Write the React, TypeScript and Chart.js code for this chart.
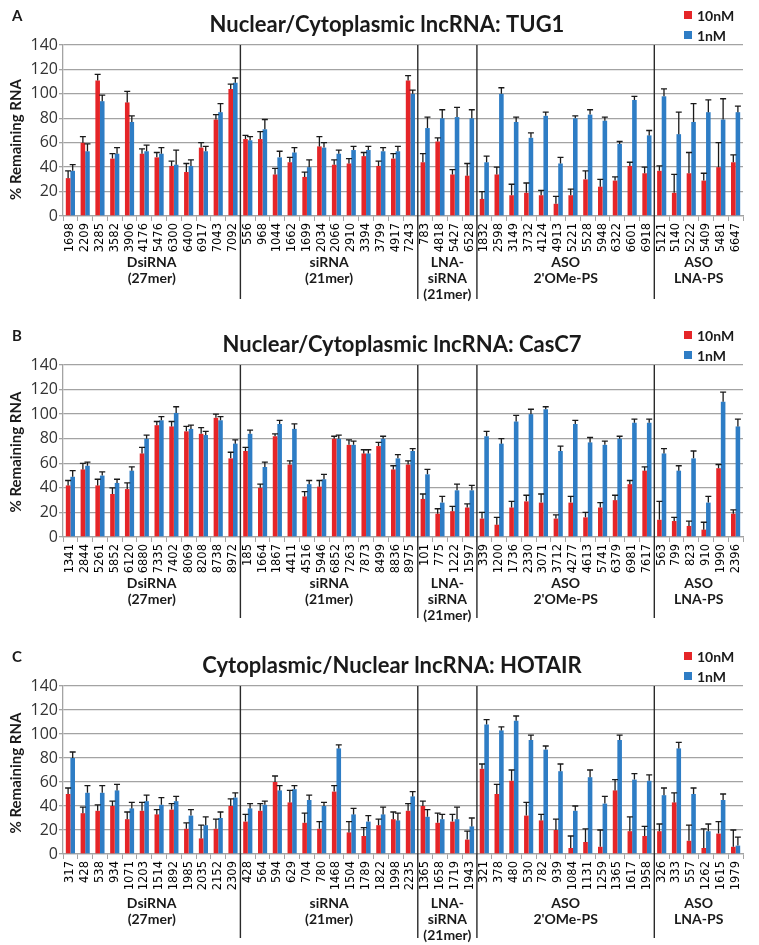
import React, { useEffect, useRef } from "react";
import { Chart, registerables } from "chart.js";
Chart.register(...registerables);

// ---------- shared ----------
const seriesNames = ["10nM", "1nM"];
const groupNames = [["DsiRNA", "(27mer)"], ["siRNA", "(21mer)"], ["LNA-", "siRNA", "(21mer)"], ["ASO", "2'OMe-PS"], ["ASO", "LNA-PS"]];
const groupSizes = [12, 12, 4, 12, 6];
const yAxisTitle = "% Remaining RNA";
const yMin = 0;
const yMax = 140;
const yStep = 20;

// ---------- panel A: TUG1 ----------
const titleA = "Nuclear/Cytoplasmic lncRNA: TUG1";
const catsA = ["1698","2209","3285","3582","3906","4176","5476","6300","6400","6917","7043","7092",
  "556","968","1044","1662","1699","2034","2066","2910","3394","3799","4917","7243",
  "783","4818","5427","6528",
  "1832","2598","3149","3732","4124","4913","5221","5528","5948","6322","6601","6918",
  "5121","5140","5222","5409","5481","6647"];
const redA = [31,60,111,47,93,51,48,41,36,56,79,104, 63,63,34,44,32,57,42,43,49,41,47,111, 44,61,34,33, 14,34,17,19,17,10,17,30,24,29,41,35, 37,19,35,29,40,44];
const redErrA = [6,5,5,4,9,4,4,4,7,4,4,4, 3,6,5,4,4,8,4,4,3,4,4,4, 7,3,4,10, 6,6,9,8,4,6,5,7,6,3,3,5, 4,15,17,6,20,6];
const blueA = [37,53,94,51,77,53,51,42,41,53,85,109, 62,71,48,52,40,56,51,54,54,53,53,100, 72,80,81,80, 44,100,77,64,82,43,80,83,78,59,95,66, 98,67,77,85,79,85];
const blueErrA = [5,6,5,5,5,5,5,12,5,4,7,4, 3,8,5,4,6,4,3,3,3,3,4,3, 9,7,8,7, 5,5,4,4,3,5,2,4,3,2,3,4, 6,18,15,10,17,5];

// ---------- panel B: CasC7 ----------
const titleB = "Nuclear/Cytoplasmic lncRNA: CasC7";
const catsB = ["1341","2844","5261","5852","6120","6880","7335","7402","8069","8208","8738","8972",
  "185","1664","1867","4411","4516","5946","6852","7263","7873","8499","8836","8975",
  "101","775","1222","1597",
  "339","1200","1736","2330","3071","3712","4277","4613","5741","6379","6981","7617",
  "563","799","823","910","1990","2396"];
const redB = [42,55,42,35,39,68,91,90,86,84,97,64, 70,40,82,59,33,41,80,75,68,74,55,59, 31,19,21,24, 15,10,24,29,28,15,28,16,24,30,43,54, 14,13,9,6,56,19];
const redErrB = [4,5,5,5,5,5,3,4,4,5,3,5, 3,3,2,3,4,5,2,4,3,3,3,3, 4,4,4,3, 5,6,5,5,7,3,5,4,4,4,3,3, 15,3,4,6,3,3];
const blueB = [49,58,50,44,54,80,95,101,88,83,95,76, 84,57,92,88,43,47,80,75,68,80,64,70, 51,28,38,38, 82,76,94,100,104,70,92,77,75,80,93,93, 68,54,64,28,110,90];
const blueErrB = [5,3,3,3,3,3,3,5,3,3,3,3, 3,4,3,4,3,4,3,3,3,2,3,2, 4,5,5,4, 4,4,5,4,2,4,3,4,3,2,3,3, 4,4,6,5,8,6];

// ---------- panel C: HOTAIR ----------
const titleC = "Cytoplasmic/Nuclear lncRNA: HOTAIR";
const catsC = ["317","428","538","934","1071","1203","1514","1892","1985","2035","2152","2309",
  "428","564","594","629","704","780","1468","1504","1789","1822","1998","2235",
  "1365","1658","1719","1943",
  "321","378","480","530","782","939","1084","1131","1259","1365","1617","1958",
  "326","333","557","1262","1615","1979"];
const redC = [50,34,36,40,29,36,33,37,21,13,21,40, 27,36,60,43,26,21,52,18,15,24,29,36, 40,26,27,12, 71,50,61,32,28,20,5,10,6,53,19,15, 19,43,11,5,17,6];
const redErrC = [5,5,5,4,6,7,4,5,5,11,8,6, 6,6,5,10,8,6,5,9,7,5,6,6, 4,8,6,7, 4,8,9,11,5,9,10,11,14,9,12,8, 6,8,13,16,10,14];
const blueC = [80,51,51,53,38,44,41,44,32,24,30,47, 38,41,53,54,45,40,88,33,27,33,28,48, 31,29,29,23, 108,103,111,95,87,69,36,64,42,95,62,61, 49,88,50,19,45,7];
const blueErrC = [5,6,6,5,5,5,6,4,5,7,5,4, 4,3,4,3,4,3,3,5,5,6,6,4, 6,4,10,7, 4,3,4,4,3,6,4,6,6,4,5,5, 6,5,5,6,5,7];

const RED = "#E52528";
const BLUE = "#2E7DC5";
const GRID = "#A3A3A3";
const SEP = "#2a2a2a";

type Panel = {
  letter: string; title: string; cats: string[];
  red: number[]; redErr: number[]; blue: number[]; blueErr: number[];
  height: number; xAxisH: number; titleX: number; yTitleShift: number; groupY: number; sepExt: number;
};

const panels: Panel[] = [
  { letter: "A", title: titleA, cats: catsA, red: redA, redErr: redErrA, blue: blueA, blueErr: blueErrA,
    height: 320, xAxisH: 104, titleX: 387, yTitleShift: 9, groupY: 46, sepExt: 83 },
  { letter: "B", title: titleB, cats: catsB, red: redB, redErr: redErrB, blue: blueB, blueErr: blueErrB,
    height: 321, xAxisH: 104, titleX: 402, yTitleShift: 1, groupY: 46, sepExt: 81 },
  { letter: "C", title: titleC, cats: catsC, red: redC, redErr: redErrC, blue: blueC, blueErr: blueErrC,
    height: 304, xAxisH: 91, titleX: 392, yTitleShift: 3, groupY: 49, sepExt: 84 },
];

function makeOverlay(p: Panel) {
  return {
    id: "overlay" + p.letter,
    afterDatasetsDraw(chart: any) {
      const ctx = chart.ctx;
      const ys = chart.scales.y;
      ctx.save();
      ctx.strokeStyle = "#1a1a1a";
      ctx.lineWidth = 1.3;
      chart.data.datasets.forEach((ds: any, di: number) => {
        const meta = chart.getDatasetMeta(di);
        meta.data.forEach((el: any, i: number) => {
          const v = ds.data[i];
          const top = ys.getPixelForValue(v + ds.errors[i]);
          const x = el.x;
          ctx.beginPath();
          ctx.moveTo(x, el.y);
          ctx.lineTo(x, top);
          ctx.moveTo(x - 3, top);
          ctx.lineTo(x + 3, top);
          ctx.stroke();
        });
      });
      ctx.restore();
    },
    afterDraw(chart: any) {
      const ctx = chart.ctx;
      const xs = chart.scales.x;
      const area = chart.chartArea;
      ctx.save();
      // group separators and labels
      const bounds: number[] = [area.left];
      let idx = 0;
      groupSizes.forEach((n, gi) => {
        idx += n;
        if (gi < groupSizes.length - 1) {
          bounds.push((xs.getPixelForValue(idx - 1) + xs.getPixelForValue(idx)) / 2);
        }
      });
      bounds.push(area.right);
      ctx.strokeStyle = SEP;
      ctx.lineWidth = 1.4;
      for (let i = 1; i < bounds.length - 1; i++) {
        ctx.beginPath();
        ctx.moveTo(bounds[i], area.top);
        ctx.lineTo(bounds[i], area.bottom + p.sepExt);
        ctx.stroke();
      }
      ctx.fillStyle = "#1a1a1a";
      ctx.font = "bold 14px Lato";
      ctx.textAlign = "center";
      ctx.textBaseline = "middle";
      groupNames.forEach((lines, gi) => {
        const cx = (bounds[gi] + bounds[gi + 1]) / 2;
        lines.forEach((ln, k) => {
          ctx.fillText(ln, cx, area.bottom + p.groupY + k * 16);
        });
      });
      // title
      ctx.font = "bold 22px Lato";
      ctx.textBaseline = "alphabetic";
      ctx.fillStyle = "#1a1a1a";
      ctx.fillText(p.title, p.titleX, area.top - 13);
      // panel letter
      ctx.textAlign = "left";
      ctx.font = "bold 15px Lato";
      ctx.fillText(p.letter, 12, area.top - 24);
      // legend
      const colors = [RED, BLUE];
      ctx.font = "bold 14px Lato";
      ctx.textBaseline = "middle";
      seriesNames.forEach((nm, i) => {
        const cy = area.top - 30 + i * 20;
        ctx.fillStyle = colors[i];
        ctx.fillRect(684, cy - 4, 8, 8);
        ctx.fillStyle = "#1a1a1a";
        ctx.fillText(nm, 697, cy + 1);
      });
      // y axis title
      ctx.save();
      ctx.translate(16, (area.top + area.bottom) / 2 + p.yTitleShift);
      ctx.rotate(-Math.PI / 2);
      ctx.textAlign = "center";
      ctx.textBaseline = "middle";
      ctx.font = "bold 15px Lato";
      ctx.fillStyle = "#1a1a1a";
      ctx.fillText(yAxisTitle, 0, 0);
      ctx.restore();
      ctx.restore();
    },
  };
}

function PanelChart({ p }: { p: Panel }) {
  const ref = useRef<HTMLCanvasElement>(null);
  useEffect(() => {
    const chart = new Chart(ref.current!, {
      type: "bar",
      data: {
        labels: p.cats,
        datasets: [
          { label: seriesNames[0], data: p.red, errors: p.redErr, backgroundColor: RED, borderWidth: 0 } as any,
          { label: seriesNames[1], data: p.blue, errors: p.blueErr, backgroundColor: BLUE, borderWidth: 0 } as any,
        ],
      },
      options: {
        responsive: false,
        animation: false,
        maintainAspectRatio: false,
        datasets: { bar: { categoryPercentage: 0.62, barPercentage: 1 } },
        layout: { padding: { top: 45, right: 16, left: 0, bottom: 0 } },
        plugins: { legend: { display: false }, title: { display: false }, tooltip: { enabled: false } },
        scales: {
          x: {
            grid: { display: true, drawOnChartArea: false, drawTicks: true, tickLength: 5, color: GRID, offset: true },
            border: { display: true, color: GRID, width: 1.3 },
            ticks: {
              autoSkip: false, minRotation: 90, maxRotation: 90, padding: 2,
              font: { family: "DejaVu Sans", size: 11.5 }, color: "#000",
            },
            afterFit: (s: any) => { s.height = p.xAxisH; },
          },
          y: {
            min: yMin, max: yMax,
            grid: { color: GRID, lineWidth: 1.3, tickLength: 4, drawTicks: true },
            border: { display: true, color: GRID, width: 1.3 },
            ticks: { stepSize: yStep, padding: 1, font: { family: "Open Sans", size: 16 }, color: "#333" },
            afterFit: (s: any) => { s.width = 63; },
          },
        },
      },
      plugins: [makeOverlay(p)],
    } as any);
    return () => chart.destroy();
  }, [p]);
  return <canvas ref={ref} width={759} height={p.height} style={{ display: "block", width: 759, height: p.height }} />;
}

export default function App() {
  return (
    <div style={{ position: "absolute", left: 0, top: 0, width: 759, height: 945, background: "#fff" }}>
      {panels.map((p) => <PanelChart key={p.letter} p={p} />)}
    </div>
  );
}
